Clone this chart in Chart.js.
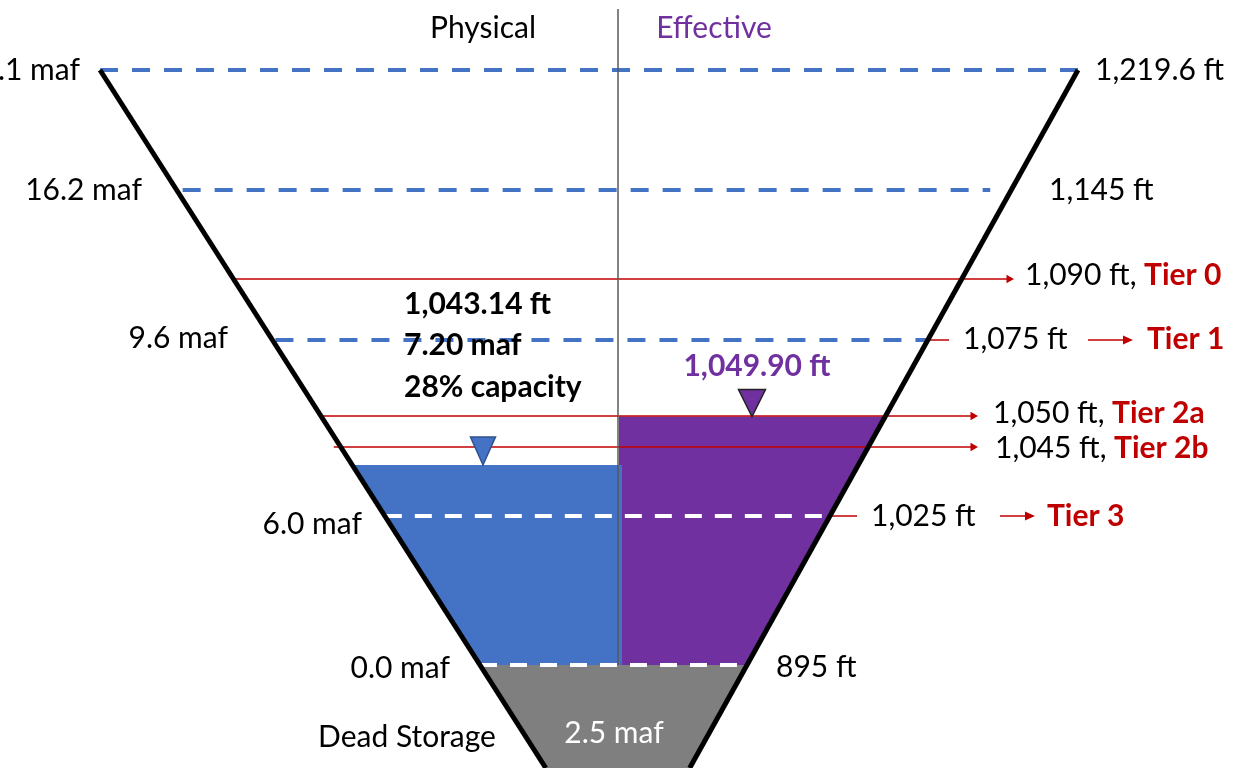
<!DOCTYPE html>
<html>
<head>
<meta charset="utf-8">
<title>Lake Mead: physical vs effective elevation</title>
<script src="https://cdn.jsdelivr.net/npm/chart.js@4.4.1/dist/chart.umd.min.js"></script>
<style>
  html, body { margin: 0; padding: 0; background: #fff; }
  canvas { display: block; }
</style>
</head>
<body>
<canvas id="reservoirChart" width="1239" height="768"></canvas>
<script>
// levels marked on the diagram
const levelFt   = [1219.6, 1145, 1090, 1075, 1050, 1045, 1025, 895];
const levelText = ['1,219.6 ft', '1,145 ft', '1,090 ft', '1,075 ft', '1,050 ft', '1,045 ft', '1,025 ft', '895 ft'];
const levelMaf  = ['26.1 maf', '16.2 maf', '', '9.6 maf', '', '', '6.0 maf', '0.0 maf'];
const levelTier = ['', '', 'Tier 0', 'Tier 1', 'Tier 2a', 'Tier 2b', 'Tier 3', ''];

// current lake state
const physicalFt  = 1043.14;
const physicalMaf = 7.20;
const physicalPct = 28;
const effectiveFt = 1049.90;
const deadStorageMaf = 2.5;
const sideNames = ['Physical', 'Effective'];

const fullPool = levelFt[0];
const deadPool = levelFt[levelFt.length - 1];
const yMin = 800, yMax = 1260;

// --- layout (schematic, not to scale) ---
const H = 768;
// elevation -> height on the page, piecewise like the original sketch
const yKnots = [[yMax, 0], [1250, 9], [1219.6, 70], [1145, 190], [1090, 279], [1075, 340],
  [1050, 416], [1045, 447], [physicalFt, 465], [1025, 516], [895, 665], [yMin, 768]];
const rimX = { left: 100, right: 1078 };   // walls at full pool
const floorX = { left: 480, right: 747 };  // walls at dead pool
const centerX = 619;

const RED = '#C00000', BLUE = '#4472C4', PURPLE = '#7030A0', GREY = '#7F7F7F';
const FONT = 'Lato, "Open Sans", sans-serif';
const FS = 30;   // regular labels
const FB = 30;   // bold labels

function yFrac(ft) {
  let i = 0;
  while (i < yKnots.length - 2 && ft < yKnots[i + 1][0]) i++;
  const [f0, p0] = yKnots[i], [f1, p1] = yKnots[i + 1];
  return (p0 + (ft - f0) * (p1 - p0) / (f1 - f0)) / H;
}
function ftFromFrac(fr) {
  const p = fr * H;
  let i = 0;
  while (i < yKnots.length - 2 && p > yKnots[i + 1][1]) i++;
  const [f0, p0] = yKnots[i], [f1, p1] = yKnots[i + 1];
  return f0 + (p - p0) * (f1 - f0) / (p1 - p0);
}

class SchematicScale extends Chart.LinearScale {
  static id = 'schematic';
  static defaults = {};
  getPixelForValue(value) {
    return this.top + yFrac(value) * (this.bottom - this.top);
  }
  getValueForPixel(pixel) {
    return ftFromFrac((pixel - this.top) / (this.bottom - this.top));
  }
}
Chart.register(SchematicScale);

function wallX(side, ft) {
  const t = (yFrac(ft) - yFrac(fullPool)) / (yFrac(deadPool) - yFrac(fullPool));
  return rimX[side] + (floorX[side] - rimX[side]) * t;
}
const L = ft => wallX('left', ft);
const R = ft => wallX('right', ft);
const pt = (x, y) => ({ x, y });

function area(points, color) {
  return { data: points, showLine: true, fill: 'shape', backgroundColor: color,
    borderWidth: 0, pointRadius: 0, order: 4 };
}
function rule(points, color, width, dash, order) {
  return { data: points, showLine: true, fill: false, borderColor: color, borderWidth: width,
    borderDash: dash || [], pointRadius: 0, order: order === undefined ? 2 : order };
}
function arrow(x1, ft1, tipX) {
  return { data: [pt(x1, ft1), pt(tipX - 5, ft1)], showLine: true, fill: false,
    borderColor: RED, borderWidth: 1.5, pointRadius: [0, 5], pointStyle: 'triangle',
    rotation: 90, pointBackgroundColor: RED, pointBorderWidth: 0, order: 2 };
}

const blueDash = [18, 14];
const whiteDash = [17, 13];

const datasets = [
  // walls and divider on top
  rule([pt(L(fullPool), fullPool), pt(L(yMin), yMin)], '#000', 5, [], 0),
  rule([pt(R(fullPool), fullPool), pt(R(yMin), yMin)], '#000', 5, [], 0),
  rule([pt(centerX - 1, 1250), pt(centerX - 1, deadPool)], '#595959', 1.5, [], 1),

  // level lines
  rule([pt(L(levelFt[0]), levelFt[0]), pt(R(levelFt[0]), levelFt[0])], BLUE, 4, blueDash),
  rule([pt(L(levelFt[1]) + 6, levelFt[1]), pt(R(levelFt[1]) - 21, levelFt[1])], BLUE, 4, blueDash),
  arrow(L(levelFt[2]) + 1, levelFt[2], 1014),
  rule([pt(L(levelFt[3]) + 3, levelFt[3]), pt(R(levelFt[3]), levelFt[3])], BLUE, 4, blueDash),
  rule([pt(R(levelFt[3]), levelFt[3]), pt(949, levelFt[3])], RED, 1.5),
  arrow(L(levelFt[4]), levelFt[4], 978),
  arrow(L(levelFt[5]) - 7, levelFt[5], 978),
  rule([pt(L(levelFt[6]), levelFt[6]), pt(R(levelFt[6]), levelFt[6])], '#fff', 4, whiteDash),
  rule([pt(R(levelFt[6]) + 2, levelFt[6]), pt(857, levelFt[6])], RED, 1.5),
  rule([pt(L(levelFt[7]), levelFt[7]), pt(R(levelFt[7]), levelFt[7])], '#fff', 4, whiteDash),

  // water and dead storage
  area([pt(L(physicalFt), physicalFt), pt(centerX + 3, physicalFt), pt(centerX + 3, deadPool), pt(L(deadPool), deadPool)], BLUE),
  area([pt(centerX, effectiveFt), pt(R(effectiveFt) + 2, effectiveFt), pt(R(deadPool) + 2, deadPool), pt(centerX, deadPool)], PURPLE),
  area([pt(L(deadPool), deadPool), pt(R(deadPool), deadPool), pt(R(yMin), yMin), pt(L(yMin), yMin)], GREY)
];

// label placement
const ftLabelX  = [1095, 1049, 1025, 963, 993, 995, 871, 776];
const ftLabelDy = [0, 0, -4, -1, -3, 1, 0, 2];
const mafLabelX  = [80, 142, 0, 228, 0, 0, 362, 450];
const mafLabelDy = [0, 0, 0, -2, 0, 0, 8, 3];
const tierArrow = { 3: [1088, 1133, 1147], 6: [1000, 1035, 1047] };

function txt(ctx, s, x, y, o) {
  o = o || {};
  ctx.font = (o.bold ? 'bold ' + FB : FS) + 'px ' + FONT;
  ctx.fillStyle = o.color || '#000';
  ctx.textAlign = o.align || 'left';
  ctx.textBaseline = 'middle';
  ctx.fillText(s, x, y);
  return ctx.measureText(s).width;
}
function tri(ctx, cx, tipY, w, h, fill, stroke) {
  ctx.beginPath();
  ctx.moveTo(cx, tipY);
  ctx.lineTo(cx - w / 2, tipY - h);
  ctx.lineTo(cx + w / 2, tipY - h);
  ctx.closePath();
  ctx.fillStyle = fill;
  ctx.fill();
  ctx.lineWidth = 1.5;
  ctx.strokeStyle = stroke;
  ctx.stroke();
}
function textArrow(ctx, x1, x2, y) {
  ctx.strokeStyle = RED;
  ctx.lineWidth = 1.5;
  ctx.beginPath();
  ctx.moveTo(x1, y);
  ctx.lineTo(x2 - 8, y);
  ctx.stroke();
  ctx.fillStyle = RED;
  ctx.beginPath();
  ctx.moveTo(x2, y);
  ctx.lineTo(x2 - 10, y - 4.5);
  ctx.lineTo(x2 - 10, y + 4.5);
  ctx.closePath();
  ctx.fill();
}

const labelsPlugin = {
  id: 'diagramLabels',
  afterDatasetsDraw(chart) {
    const ctx = chart.ctx;
    const ys = chart.scales.y;
    const y = ft => ys.getPixelForValue(ft);
    ctx.save();

    const top = y(fullPool);
    txt(ctx, sideNames[0], 483, top - 42, { align: 'center' });
    txt(ctx, sideNames[1], 714, top - 42, { align: 'center', color: PURPLE });

    levelFt.forEach((ft, i) => {
      const ly = y(ft);
      if (levelMaf[i]) txt(ctx, levelMaf[i], mafLabelX[i], ly + mafLabelDy[i], { align: 'right' });
      const ty = ly + ftLabelDy[i];
      if (!levelTier[i]) {
        txt(ctx, levelText[i], ftLabelX[i], ty);
      } else if (tierArrow[i]) {
        const [a1, a2, tx] = tierArrow[i];
        txt(ctx, levelText[i], ftLabelX[i], ty);
        textArrow(ctx, a1, a2, ly);
        txt(ctx, levelTier[i], tx, ty, { bold: true, color: RED });
      } else {
        const w = txt(ctx, levelText[i] + ', ', ftLabelX[i], ty);
        txt(ctx, levelTier[i], ftLabelX[i] + w, ty, { bold: true, color: RED });
      }
    });

    // physical level callout
    const py = y(physicalFt);
    tri(ctx, 483, py, 25, 28, BLUE, '#2F528F');
    const pInfo = [physicalFt.toLocaleString('en-US', { minimumFractionDigits: 2 }) + ' ft',
      physicalMaf.toFixed(2) + ' maf', physicalPct + '% capacity'];
    pInfo.forEach((s, k) => txt(ctx, s, 404, py - 161 + k * 41.5, { bold: true }));

    // effective level callout
    const ey = y(effectiveFt);
    tri(ctx, 752, ey, 27, 27, PURPLE, '#222');
    txt(ctx, effectiveFt.toLocaleString('en-US', { minimumFractionDigits: 2 }) + ' ft', 757, ey - 50,
      { bold: true, color: PURPLE, align: 'center' });

    // dead storage
    const dy = y(deadPool);
    txt(ctx, 'Dead Storage', 407, dy + 72, { align: 'center' });
    txt(ctx, deadStorageMaf.toFixed(1) + ' maf', 614, dy + 68, { align: 'center', color: '#fff' });

    ctx.restore();
  }
};

new Chart(document.getElementById('reservoirChart'), {
  type: 'scatter',
  data: { datasets },
  options: {
    responsive: false,
    animation: false,
    events: [],
    layout: { padding: 0, autoPadding: false },
    elements: { line: { tension: 0 } },
    plugins: { legend: { display: false }, tooltip: { enabled: false } },
    scales: {
      x: { type: 'linear', min: 0, max: 1239, display: false },
      y: { type: 'schematic', min: yMin, max: yMax, display: false }
    }
  },
  plugins: [labelsPlugin]
});
</script>
</body>
</html>
